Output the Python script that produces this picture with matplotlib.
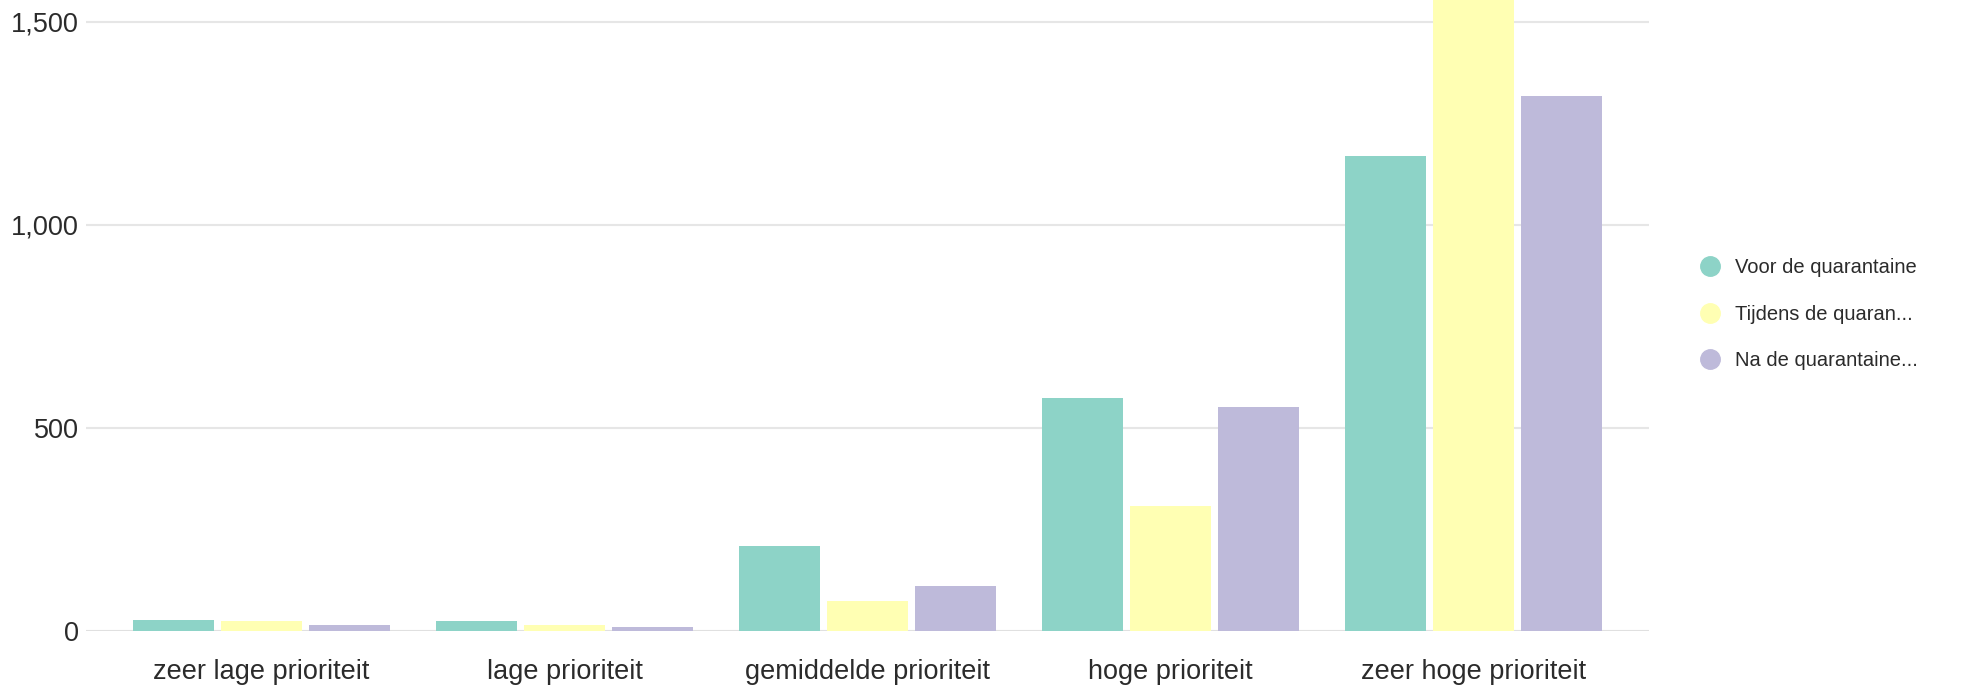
import numpy as np
import matplotlib
matplotlib.use('Agg')
from matplotlib import pyplot as plt
from matplotlib.lines import Line2D

# data
categorieen = ['zeer lage prioriteit', 'lage prioriteit', 'gemiddelde prioriteit',
               'hoge prioriteit', 'zeer hoge prioriteit']
series = ['Voor de quarantaine', 'Tijdens de quaran...', 'Na de quarantaine...']
voor = [26, 24, 210, 574, 1168]
tijdens = [24, 14, 75, 308, 1620]
na = [14, 9, 112, 552, 1317]
yticks = [0, 500, 1000, 1500]

kleuren = ['#8dd3c7', '#ffffb3', '#bebada']

plt.rcParams['font.family'] = ['Liberation Sans', 'DejaVu Sans']

fig = plt.figure(figsize=(19.75, 6.87), dpi=100)
ax = fig.add_axes([0.0435, 0.0815, 0.7915, 0.9185])

x = np.arange(len(categorieen))
breedte = 0.266
stap = 0.291
for i, (waarden, kleur) in enumerate(zip([voor, tijdens, na], kleuren)):
    ax.bar(x + (i - 1) * stap, waarden, width=breedte, color=kleur, zorder=3)

ax.set_xlim(-0.58, 4.58)
ax.set_ylim(0, 1553)
ax.set_yticks(yticks)
ax.set_yticklabels([f'{v:,}' for v in yticks])
ax.set_xticks(x)
ax.set_xticklabels(categorieen)
ax.yaxis.grid(True, color='#e6e6e6', linewidth=1.5, zorder=0)
ax.axhline(0, color='#e0e0e0', linewidth=2, zorder=2)
for s in ax.spines.values():
    s.set_visible(False)
ax.tick_params(axis='both', length=0, labelsize=19.5, colors='#2b2b2b')
ax.tick_params(axis='y', pad=5)
ax.tick_params(axis='x', pad=20)

handles = [Line2D([], [], marker='o', linestyle='none', markersize=14,
                  markerfacecolor=k, markeredgecolor=k) for k in kleuren]
fig.legend(handles, series, loc='center left', bbox_to_anchor=(1700 / 1975, 0.5425),
           frameon=False, fontsize=14.5, handlelength=1.0, handletextpad=0.75,
           labelspacing=1.36, borderpad=0, borderaxespad=0, labelcolor='#2b2b2b')

fig.savefig('out.png', dpi=100)
